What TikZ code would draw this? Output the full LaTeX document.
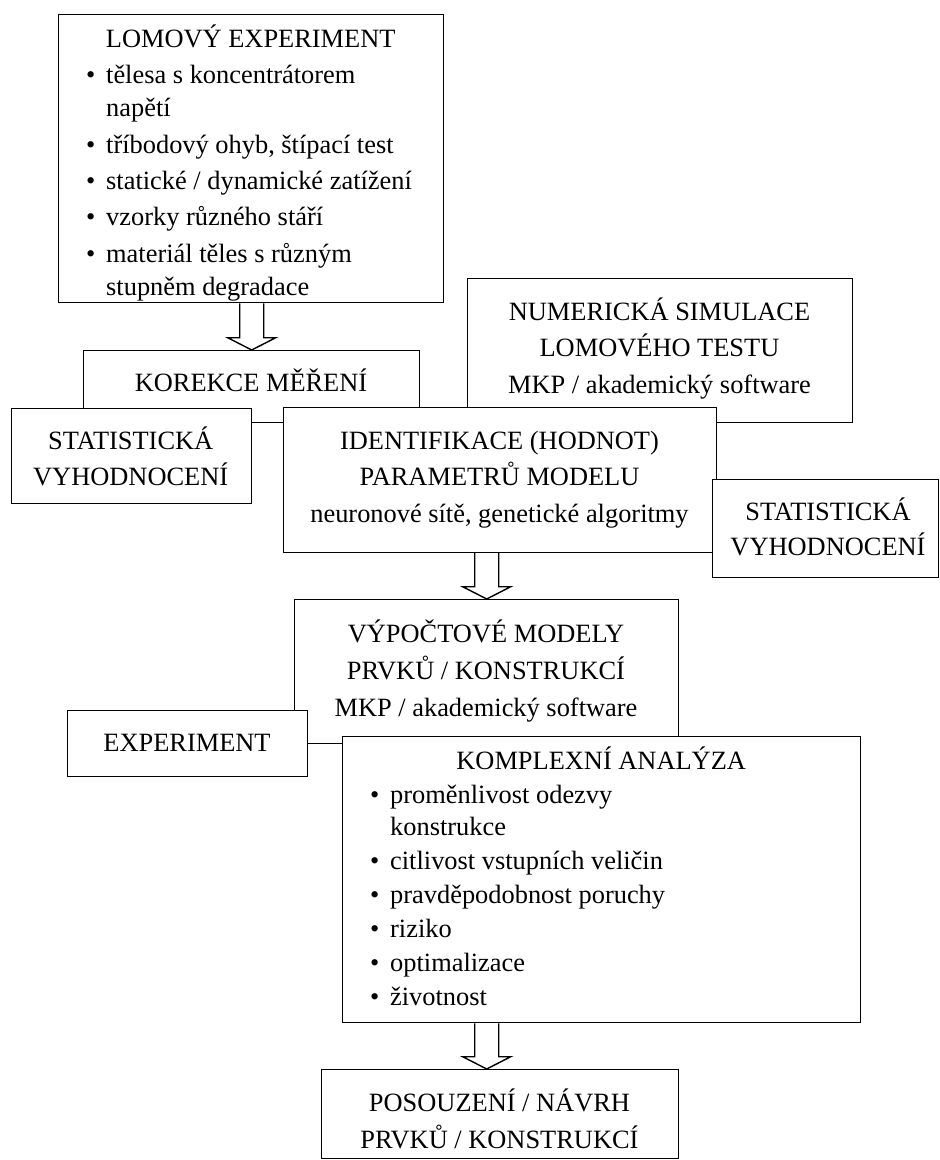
\documentclass[tikz,border=0pt]{standalone}
\usepackage{fontspec}
\setmainfont{Liberation Serif}
\usetikzlibrary{calc}
\newcommand\bul{\hangindent=20pt\hangafter=1\noindent\makebox[20pt][l]{\textbullet}}
\newcommand\nl{\hfil\break}
\newcommand\cbox[2]{\parbox[t]{#1}{\centering #2}}
\tikzset{
  box/.style={draw, line width=1.4pt, fill=white, inner sep=0pt, anchor=north west},
  txt/.style={font=\fontsize{26.4}{36.5}\selectfont, inner sep=0pt, anchor=base},
  fat/.style={draw, line width=1.4pt, line join=miter},
}
\newcommand\fatarrow[3]{\draw[fat] let \p1=(#2), \p2=(#3), \p0=(#1) in
  (\x0-12pt,\y1) -- (\x0-12pt,\y2+12.3pt) -- (\x0-24pt,\y2+12.3pt) -- (\x0,\y2)
  -- (\x0+24pt,\y2+12.3pt) -- (\x0+12pt,\y2+12.3pt) -- (\x0+12pt,\y1);}
\begin{document}
\begin{tikzpicture}[x=1pt,y=-1pt]
\useasboundingbox (0,0) rectangle (940,1160);
% boxes
\node[box, minimum width=385pt, minimum height=288pt] (lom) at (58,14) {};
\node[box, minimum width=336pt, minimum height=71.7pt] (kor) at (83,350) {};
\node[box, minimum width=385pt, minimum height=144pt] (num) at (467,278) {};
\node[box, minimum width=240pt, minimum height=95.3pt] (lstat) at (10.7,407.7) {};
\node[box, minimum width=433pt, minimum height=145pt] (ident) at (283,406.7) {};
\node[box, minimum width=226pt, minimum height=98pt] (rstat) at (712,479) {};
\node[box, minimum width=384pt, minimum height=143.5pt] (vyp) at (294,599) {};
\node[box, minimum width=240pt, minimum height=66pt] (exp) at (67,710) {};
\node[box, minimum width=518pt, minimum height=286pt] (kompl) at (342,736) {};
\node[box, minimum width=357pt, minimum height=89pt] (pos) at (321,1069) {};
% texts
\node[txt, anchor=base west] (t-lom) at (64,47.5) {\parbox[t]{373pt}{%
  \fontsize{26.4}{33}\selectfont\raggedright\setlength\parskip{3.3pt}\leftskip=22pt
  {\leftskip=-22pt\rightskip=0pt plus 1fil\centering LOMOVÝ EXPERIMENT\par}
  \bul tělesa s koncentrátorem\nl napětí\par
  \bul tříbodový ohyb, štípací test\par
  \bul statické / dynamické zatížení\par
  \bul vzorky různého stáří\par
  \bul materiál těles s různým\nl stupněm degradace\par}};
\node[txt] (t-kor) at (251,391.7) {KOREKCE MĚŘENÍ};
\node[txt] (t-num) at (659.5,320) {\cbox{380pt}{NUMERICKÁ SIMULACE\\LOMOVÉHO TESTU\\MKP / akademický software}};
\node[txt] (t-lstat) at (130.7,449.3) {\cbox{236pt}{STATISTICKÁ\\VYHODNOCENÍ}};
\node[txt] (t-ident) at (499.5,449) {\cbox{430pt}{IDENTIFIKACE (HODNOT)\\PARAMETRŮ MODELU\\neuronové sítě, genetické algoritmy}};
\node[txt] (t-rstat) at (828,520) {\cbox{224pt}{\fontsize{26.4}{35}\selectfont STATISTICKÁ\\VYHODNOCENÍ}};
\node[txt] (t-vyp) at (486,642) {\cbox{380pt}{\fontsize{26.4}{37}\selectfont VÝPOČTOVÉ MODELY\\PRVKŮ / KONSTRUKCÍ\\MKP / akademický software}};
\node[txt] (t-exp) at (187,751.7) {EXPERIMENT};
\node[txt, anchor=base west] (t-kompl) at (350,769) {\parbox[t]{502pt}{%
  \fontsize{26.4}{32}\selectfont\raggedright\setlength\parskip{2pt}\leftskip=20pt
  {\leftskip=-20pt\rightskip=0pt plus 1fil\centering KOMPLEXNÍ ANALÝZA\par}
  \bul proměnlivost odezvy\nl konstrukce\par
  \bul citlivost vstupních veličin\par
  \bul pravděpodobnost poruchy\par
  \bul riziko\par
  \bul optimalizace\par
  \bul životnost\par}};
\node[txt] (t-pos) at (499.5,1111.7) {\cbox{350pt}{POSOUZENÍ / NÁVRH\\PRVKŮ / KONSTRUKCÍ}};
% hollow arrows
\fatarrow{kor.north}{lom.south}{kor.north}
\fatarrow{vyp.north}{ident.south}{vyp.north}
\fatarrow{vyp.north}{kompl.south}{pos.north}
\end{tikzpicture}
\end{document}
